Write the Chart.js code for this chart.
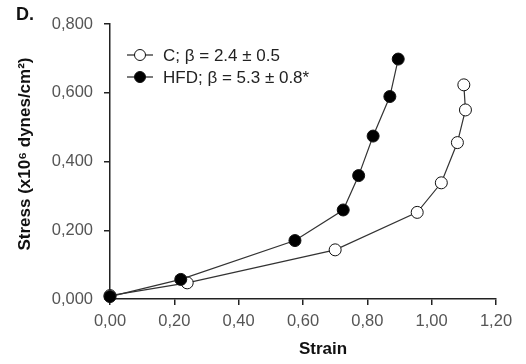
<!DOCTYPE html>
<html>
<head>
<meta charset="utf-8">
<script src="https://cdn.jsdelivr.net/npm/chart.js@4/dist/chart.umd.min.js"></script>
<style>
  html, body { margin: 0; padding: 0; background: #fff; }
  canvas { display: block; }
</style>
</head>
<body>
<canvas id="stressChart" width="526" height="364"></canvas>
<script>
// Strain / stress values
const cStrain = [0.00, 0.24, 0.70, 0.955, 1.03, 1.08, 1.105, 1.10];
const cStress = [0.010, 0.047, 0.143, 0.252, 0.338, 0.455, 0.550, 0.623];
const hfdStrain = [0.00, 0.22, 0.575, 0.725, 0.773, 0.818, 0.870, 0.896];
const hfdStress = [0.007, 0.057, 0.170, 0.259, 0.359, 0.474, 0.589, 0.698];
const seriesLabels = ["C; \u03B2 = 2.4 \u00B1 0.5", "HFD; \u03B2 = 5.3 \u00B1 0.8*"];

const FONT = '"Liberation Sans", Arial, sans-serif';

const toPoints = (xs, ys) => xs.map((x, i) => ({ x: x, y: ys[i] }));

// titles, panel letter and the inset legend
const decorations = {
  id: "decorations",
  afterDraw(chart) {
    const ctx = chart.ctx;
    ctx.save();
    ctx.fillStyle = "#111";

    ctx.font = "bold 18px " + FONT;
    ctx.textAlign = "left";
    ctx.textBaseline = "middle";
    ctx.fillText("D.", 16, 15);

    ctx.font = "bold 17px " + FONT;
    ctx.textAlign = "center";
    ctx.fillText("Strain", 323, 349);

    ctx.save();
    ctx.translate(25, 154);
    ctx.rotate(-Math.PI / 2);
    ctx.fillText("Stress (x10\u2076 dynes/cm\u00B2)", 0, 0);
    ctx.restore();

    // legend
    const rows = [55, 77];
    const fills = ["#fff", "#000"];
    ctx.font = "17px " + FONT;
    ctx.textAlign = "left";
    rows.forEach((y, i) => {
      ctx.strokeStyle = "#222";
      ctx.lineWidth = 1.2;
      ctx.beginPath();
      ctx.moveTo(127, y);
      ctx.lineTo(153, y);
      ctx.stroke();
      ctx.beginPath();
      ctx.arc(140, y, 5.5, 0, Math.PI * 2);
      ctx.fillStyle = fills[i];
      ctx.fill();
      ctx.lineWidth = 1;
      ctx.strokeStyle = "#111";
      ctx.stroke();
      ctx.fillStyle = "#222";
      ctx.fillText(seriesLabels[i], 163, y + 1);
    });
    ctx.restore();
  }
};

new Chart(document.getElementById("stressChart"), {
  type: "line",
  data: {
    datasets: [
      {
        label: seriesLabels[1],
        data: toPoints(hfdStrain, hfdStress),
        borderColor: "#333",
        borderWidth: 1.2,
        pointBackgroundColor: "#000",
        pointBorderColor: "#111",
        pointBorderWidth: 1,
        pointRadius: 6,
        clip: false,
        order: 1
      },
      {
        label: seriesLabels[0],
        data: toPoints(cStrain, cStress),
        borderColor: "#333",
        borderWidth: 1.2,
        pointBackgroundColor: "#fff",
        pointBorderColor: "#111",
        pointBorderWidth: 1,
        pointRadius: 6,
        clip: false,
        order: 2
      }
    ]
  },
  options: {
    responsive: false,
    animation: false,
    layout: { padding: { top: 24, right: 30, left: 0, bottom: 0 } },
    plugins: {
      legend: { display: false },
      tooltip: { enabled: false }
    },
    scales: {
      x: {
        type: "linear",
        min: 0,
        max: 1.2,
        afterFit: (s) => { s.height = 65; },
        border: { display: true, color: "#222", width: 1.5 },
        grid: { drawOnChartArea: false, drawTicks: true, tickLength: 6, color: "#222", lineWidth: 1.5 },
        ticks: {
          stepSize: 0.2,
          padding: 7,
          color: "#555",
          font: { family: FONT, size: 16.5 },
          maxRotation: 0,
          callback: (v) => v.toFixed(2).replace(".", ",")
        }
      },
      y: {
        min: 0,
        max: 0.8,
        afterFit: (s) => { s.width = 110; },
        border: { display: true, color: "#222", width: 1.5 },
        grid: { drawOnChartArea: false, drawTicks: true, tickLength: 6, color: "#222", lineWidth: 1.5 },
        ticks: {
          stepSize: 0.2,
          padding: 11,
          color: "#555",
          font: { family: FONT, size: 16.5 },
          callback: (v) => v.toFixed(3).replace(".", ",")
        }
      }
    }
  },
  plugins: [decorations]
});
</script>
</body>
</html>
